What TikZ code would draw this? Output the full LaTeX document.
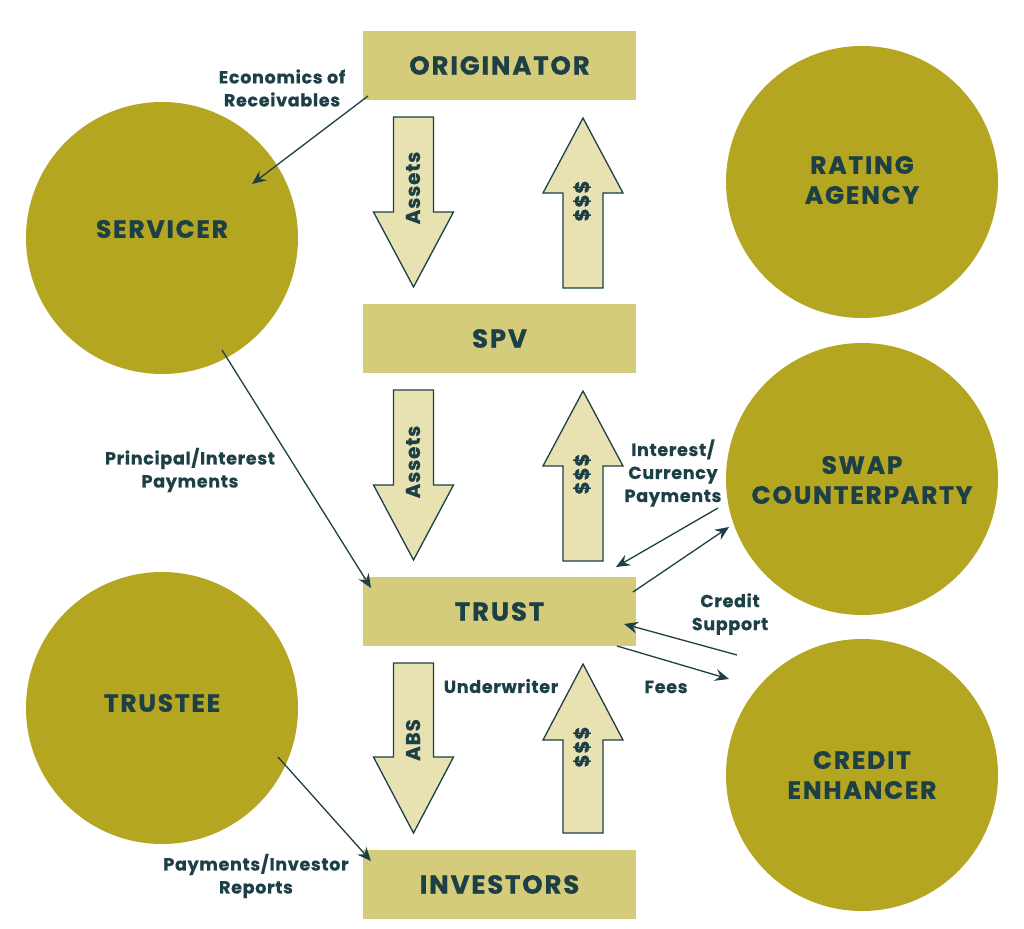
\documentclass[tikz,border=0pt]{standalone}
\usepackage{fontspec}
\setmainfont{Poppins}
\newfontfamily\biglab{Poppins}[LetterSpace=7,BoldFeatures={FakeBold=0.8}]
\newfontfamily\smalllab{Poppins}[LetterSpace=4,BoldFeatures={FakeBold=0.6}]
\usetikzlibrary{arrows.meta}
\definecolor{olive}{HTML}{B5A622}
\definecolor{boxc}{HTML}{D4CC7B}
\definecolor{arrc}{HTML}{E8E2B2}
\definecolor{ink}{HTML}{1D3F46}
\newcommand\blkdown[4]{%
  \draw[blk] ({#1-20},#2) -- ({#1+20},#2) -- ({#1+20},#3) -- ({#1+40},#3) -- (#1,#4) -- ({#1-40},#3) -- ({#1-20},#3) -- cycle;}
\newcommand\blkup[4]{%
  \draw[blk] ({#1-20},#2) -- ({#1+20},#2) -- ({#1+20},#3) -- ({#1+40},#3) -- (#1,#4) -- ({#1-40},#3) -- ({#1-20},#3) -- cycle;}
\begin{document}
\begin{tikzpicture}[x=1pt,y=-1pt,
  box/.style={fill=boxc,minimum width=273pt,minimum height=69pt,inner sep=0pt,text=ink,font=\fontsize{26}{30}\biglab\bfseries},
  circ/.style={circle,fill=olive,minimum size=272pt,inner sep=0pt},
  big/.style={text=ink,align=center,font=\fontsize{25}{30}\biglab\bfseries},
  small/.style={text=ink,align=center,font=\fontsize{17.5}{23}\smalllab\bfseries},
  blk/.style={fill=arrc,draw=ink,line width=1.3pt,line join=miter},
  blktext/.style={text=ink,rotate=90,font=\fontsize{20}{22}\smalllab\bfseries},
  thin/.style={draw=ink,line width=1.3pt,-{Stealth[length=14pt,width=12pt,inset=5pt]}},
]
\useasboundingbox (0,0) rectangle (1024,928);
% circles
\node[circ] (servicer) at (162,238) {};
\node[circ] (rating) at (862,182) {};
\node[circ] (swap) at (862,479) {};
\node[circ] (trustee) at (162,708) {};
\node[circ] (enh) at (862,775) {};
\node[big] (servicerT) at (162,229) {SERVICER};
\node[big] (ratingT) at (862,180) {RATING\\AGENCY};
\node[big] (swapT) at (862,480) {SWAP\\COUNTERPARTY};
\node[big] (trusteeT) at (162,703) {TRUSTEE};
\node[big] (enhT) at (862,775) {CREDIT\\ENHANCER};
% boxes
\node[box] (orig) at (499.5,65.5) {ORIGINATOR};
\node[box] (spv) at (499.5,338.5) {SPV};
\node[box] (trust) at (499.5,611.5) {TRUST};
\node[box] (inv) at (499.5,884.5) {INVESTORS};
% block arrows
\blkdown{413.5}{117}{212}{287}
\blkup{583}{288}{193}{118}
\blkdown{413.5}{390}{485}{560}
\blkup{583}{561}{466}{391}
\blkdown{413.5}{663}{757}{833}
\blkup{583}{833}{740}{664}
\node[blktext] (a1) at (413,188) {Assets};
\node[blktext] (d1) at (582,201) {\$\$\$};
\node[blktext] (a2) at (413,462) {Assets};
\node[blktext] (d2) at (582,474) {\$\$\$};
\node[blktext] (a3) at (413,740) {ABS};
\node[blktext] (d3) at (582,747) {\$\$\$};
% connector end points
\coordinate (c1s) at (368,96);
\coordinate (c1e) at (252,184);
\coordinate (c2s) at (222,350);
\coordinate (c2e) at (371,588);
\coordinate (c3s) at (718,508);
\coordinate (c3e) at (616,567);
\coordinate (c4s) at (633,592);
\coordinate (c4e) at (729,527);
\coordinate (c5s) at (737,655);
\coordinate (c5e) at (624,624);
\coordinate (c6s) at (617,646);
\coordinate (c6e) at (729,679);
\coordinate (c7s) at (278,757);
\coordinate (c7e) at (371,861);
\draw[thin] (c1s) -- (c1e);
\draw[thin] (c2s) -- (c2e);
\draw[thin] (c3s) -- (c3e);
\draw[thin] (c4s) -- (c4e);
\draw[thin] (c5s) -- (c5e);
\draw[thin] (c6s) -- (c6e);
\draw[thin] (c7s) -- (c7e);
% labels
\node[small] (l1) at (282,88) {Economics of\\Receivables};
\node[small] (l2) at (190,470) {Principal/Interest\\Payments};
\node[small] (l3) at (673,473) {Interest/\\Currency\\Payments};
\node[small] (l4) at (730,614) {Credit\\Support};
\node[small] (l5) at (666,687) {Fees};
\node[small] (l6) at (501,686) {Underwriter};
\node[small] (l7) at (256,876) {Payments/Investor\\Reports};
\end{tikzpicture}
\end{document}
